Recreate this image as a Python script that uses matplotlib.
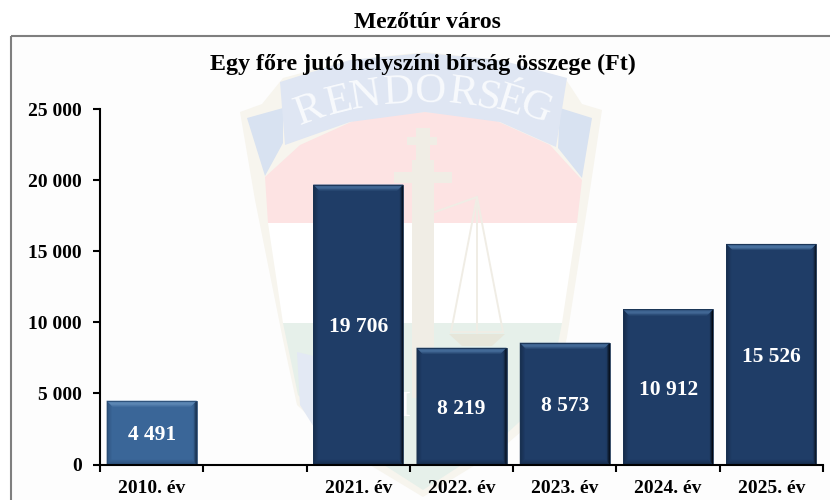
import numpy as np
import matplotlib
matplotlib.use("Agg")
import matplotlib.pyplot as plt
from matplotlib.patches import Polygon, Rectangle
from matplotlib.ticker import FixedLocator, FuncFormatter

categories = ["2010. év", "", "2021. év", "2022. év", "2023. év", "2024. év", "2025. év"]
values = [4491, None, 19706, 8219, 8573, 10912, 15526]
yticks = [0, 5000, 10000, 15000, 20000, 25000]
title_top = "Mezőtúr város"
title_chart = "Egy főre jutó helyszíni bírság összege (Ft)"

W, H = 830, 500
plt.rcParams["font.family"] = ["Liberation Serif", "DejaVu Serif"]
plt.rcParams["font.weight"] = "bold"
fig = plt.figure(figsize=(W / 100, H / 100), dpi=100, facecolor="white")

# ---------- watermark and frame, in pixel coordinates ----------
bg = fig.add_axes([0, 0, 1, 1], zorder=0)
bg.set_xlim(0, W); bg.set_ylim(H, 0); bg.axis("off")
bg.add_patch(Rectangle((11, 36), W, H, fc="#fdfdfd", ec="none"))

def poly(pts, c, z=1):
    bg.add_patch(Polygon(pts, closed=True, fc=c, ec="none", zorder=z))

outer = [(240, 112), (262, 104), (283, 78), (350, 60), (425, 52), (500, 60), (565, 78), (582, 104), (602, 110),
         (590, 190), (567, 337), (552, 405), (500, 450), (423, 497), (345, 450), (297, 405), (283, 340), (255, 200)]
poly(outer, "#f7f5ee", 1)
poly([(265, 177), (300, 145), (360, 118), (425, 112), (490, 118), (550, 145), (582, 180), (577, 223), (268, 223)], "#fde3e3", 2)
poly([(268, 223), (577, 223), (562, 323), (283, 323)], "#ffffff", 2)
poly([(283, 323), (562, 323), (548, 395), (500, 440), (423, 490), (345, 440), (298, 395)], "#e6f0ea", 2)
poly([(297, 352), (322, 358), (322, 440), (300, 405)], "#e3e9f4", 3)
poly([(522, 360), (545, 352), (540, 405), (522, 430)], "#e3e9f4", 3)
# ribbon
poly([(247, 118), (283, 108), (283, 143), (265, 176)], "#d8e2f1", 3)
poly([(592, 118), (560, 108), (558, 148), (582, 178)], "#d8e2f1", 3)
poly([(280, 82), (350, 60), (425, 53), (500, 60), (567, 78), (556, 147), (500, 122), (425, 112), (350, 122), (285, 145)], "#dfe6f3", 4)
letters = "RENDORSÉG"
lx = [310, 339, 366, 399, 430, 463, 488, 510, 535]
ly = [110, 102, 96, 93, 92, 94, 98, 102, 108]
lr = [20, 14, 9, 3, -1, -7, -12, -17, -22]
for s, x, y, r in zip(letters, lx, ly, lr):
    bg.text(x, y, s, color="#f8fafd", fontsize=31, fontweight="normal", ha="center", va="center", rotation=r, zorder=5)
# cross and scales
poly([(412, 160), (434, 160), (434, 398), (412, 398)], "#f0ede5", 6)
poly([(416, 128), (430, 128), (430, 160), (416, 160)], "#f0ede5", 6)
poly([(407, 137), (437, 137), (437, 145), (407, 145)], "#f0ede5", 6)
poly([(394, 172), (452, 172), (452, 183), (394, 183)], "#f0ede5", 6)
for seg in [((435, 212), (477, 197)), ((477, 197), (477, 335)), ((477, 197), (451, 332)), ((477, 197), (503, 332)), ((451, 332), (503, 332))]:
    bg.plot(*zip(*seg), color="#f0ede5", lw=1.4, zorder=6)
poly([(449, 334), (505, 334), (492, 346), (462, 346)], "#e6e6da", 6)
bg.text(405, 408, "I", color="#ffffff", fontsize=26, fontweight="normal", ha="center", va="center", zorder=7)
# frame
bg.plot([11, 11], [H, 36], color="#7f7f7f", lw=1.5, zorder=8, solid_capstyle="butt")
bg.plot([11, W], [36, 36], color="#7f7f7f", lw=1.5, zorder=8, solid_capstyle="butt")

# ---------- chart ----------
x0, x1, ytop, ybot = 100, 823, 109.3, 464.5
ax = fig.add_axes([x0 / W, 1 - ybot / H, (x1 - x0) / W, (ybot - ytop) / H], zorder=2)
ax.patch.set_alpha(0)
ax.set_xlim(-0.5, len(categories) - 0.5)
ax.set_ylim(0, 25000)
px = len(categories) / (x1 - x0)
py = 25000 / (ybot - ytop)
width = 90 * px

def mix(a, b, t):
    a = np.array(matplotlib.colors.to_rgb(a)); b = np.array(matplotlib.colors.to_rgb(b))
    return tuple(a + (b - a) * t)

def bevel(x, h, body, top, side, edge):
    l, r = x - width / 2, x + width / 2
    ax.bar(x, h, width, color=body, edgecolor="none", zorder=3)
    n = 6
    for k in range(n):  # strips from outer edge inward
        a, b = k * px, (k + 1) * px
        ay, by = k * py, (k + 1) * py
        t = k / (n - 1)
        soft = mix(body, side, .35)
        ax.add_patch(Polygon([(l + a, ay), (r - a, ay), (r - b, by), (l + b, by)], fc=mix(soft, body, t), ec="none", zorder=4))
        ax.add_patch(Polygon([(l + a, ay), (l + a, h - ay), (l + b, h - by), (l + b, by)], fc=mix(soft, body, t), ec="none", zorder=4))
        ax.add_patch(Polygon([(r - a, ay), (r - a, h - ay), (r - b, h - by), (r - b, by)], fc=mix(side, body, min(1, t * 1.6)), ec="none", zorder=4))
        ax.add_patch(Polygon([(l + a, h - ay), (r - a, h - ay), (r - b, h - by), (l + b, h - by)], fc=mix(mix(body, top, .3), top, np.sin(np.pi * t) if t < 1 else 0), ec="none", zorder=4))
    ax.add_patch(Rectangle((l, 0), width, h, fc="none", ec=edge, lw=0.6, zorder=5))

for i, (c, v) in enumerate(zip(categories, values)):
    if v is None:
        continue
    if i == 0:
        bevel(i, v, "#3a6698", "#6690bd", "#0f2036", "#2b4d75")
    else:
        bevel(i, v, "#1f3d67", "#4f78a6", "#03070d", "#1a3353")
    ax.annotate(f"{v:,}".replace(",", " "), (i, v / 2), xytext=(0, -2), textcoords="offset points",
                color="white", fontsize=15.5, ha="center", va="center", zorder=6)

for s in ("top", "right"):
    ax.spines[s].set_visible(False)
for s in ("left", "bottom"):
    ax.spines[s].set_linewidth(1.5)
    ax.spines[s].set_color("black")
    ax.spines[s].set_zorder(7)
ax.yaxis.set_major_locator(FixedLocator(yticks))
ax.yaxis.set_major_formatter(FuncFormatter(lambda v, p: f"{int(v):,}".replace(",", " ")))
ax.tick_params(axis="y", direction="out", length=5, width=1.5, labelsize=14, pad=8)
ax.xaxis.set_major_locator(FixedLocator(range(len(categories))))
ax.set_xticklabels(categories)
ax.xaxis.set_minor_locator(FixedLocator(np.arange(-0.5, len(categories))))
ax.tick_params(axis="x", which="major", length=0, labelsize=14, pad=11)
ax.tick_params(axis="x", which="minor", direction="out", length=5, width=1.5)

fig.text(427 / W, 1 - 22 / H, title_top, ha="center", va="center", fontsize=17, zorder=5)
fig.text(423 / W, 1 - 64 / H, title_chart, ha="center", va="center", fontsize=17.3, zorder=5)

fig.savefig("out.png", dpi=100)
